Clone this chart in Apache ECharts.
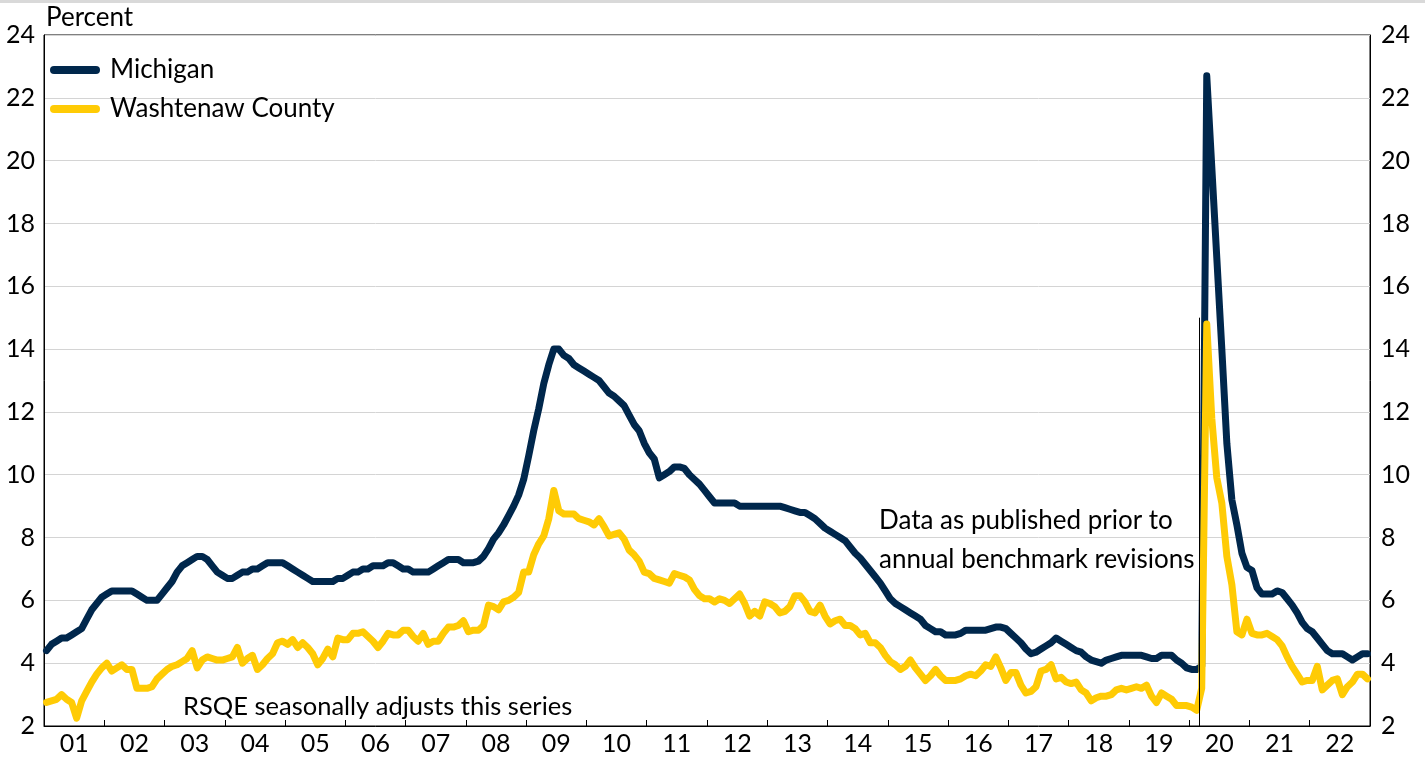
<!DOCTYPE html>
<html>
<head>
<meta charset="utf-8">
<title>Michigan vs Washtenaw County unemployment rate</title>
<script src="https://cdn.jsdelivr.net/npm/echarts@6/dist/echarts.min.js"></script>
<style>
  html, body { margin: 0; padding: 0; background: #fff; }
  #chart { width: 1425px; height: 759px; }
</style>
</head>
<body>
<div id="chart"></div>
<script>
// year labels under the axis (one per year, Jan 2001 - Dec 2022)
const yearLabels = ['01', '02', '03', '04', '05', '06', '07', '08', '09', '10', '11',
  '12', '13', '14', '15', '16', '17', '18', '19', '20', '21', '22']

// monthly unemployment rate, percent
const michigan = [
  4.4, 4.6, 4.7, 4.8, 4.8, 4.9, 5.0, 5.1, 5.4, 5.7, 5.9, 6.1,        // 2001
  6.2, 6.3, 6.3, 6.3, 6.3, 6.3, 6.2, 6.1, 6.0, 6.0, 6.0, 6.2,        // 2002
  6.4, 6.6, 6.9, 7.1, 7.2, 7.3, 7.4, 7.4, 7.3, 7.1, 6.9, 6.8,        // 2003
  6.7, 6.7, 6.8, 6.9, 6.9, 7.0, 7.0, 7.1, 7.2, 7.2, 7.2, 7.2,        // 2004
  7.1, 7.0, 6.9, 6.8, 6.7, 6.6, 6.6, 6.6, 6.6, 6.6, 6.7, 6.7,        // 2005
  6.8, 6.9, 6.9, 7.0, 7.0, 7.1, 7.1, 7.1, 7.2, 7.2, 7.1, 7.0,        // 2006
  7.0, 6.9, 6.9, 6.9, 6.9, 7.0, 7.1, 7.2, 7.3, 7.3, 7.3, 7.2,        // 2007
  7.2, 7.2, 7.25, 7.4, 7.65, 7.95, 8.15, 8.4, 8.7, 9.0, 9.35, 9.85,  // 2008
  10.6, 11.4, 12.1, 12.9, 13.5, 14.0, 14.0, 13.8, 13.7, 13.5, 13.4, 13.3, // 2009
  13.2, 13.1, 13.0, 12.8, 12.6, 12.5, 12.35, 12.2, 11.9, 11.6, 11.4, 11.0, // 2010
  10.7, 10.5, 9.9, 10.0, 10.1, 10.25, 10.25, 10.2, 10.0, 9.85, 9.7, 9.5,   // 2011
  9.3, 9.1, 9.1, 9.1, 9.1, 9.1, 9.0, 9.0, 9.0, 9.0, 9.0, 9.0,        // 2012
  9.0, 9.0, 9.0, 8.95, 8.9, 8.85, 8.8, 8.8, 8.7, 8.6, 8.45, 8.3,     // 2013
  8.2, 8.1, 8.0, 7.9, 7.7, 7.5, 7.35, 7.15, 6.95, 6.75, 6.55, 6.3,   // 2014
  6.05, 5.9, 5.8, 5.7, 5.6, 5.5, 5.4, 5.2, 5.1, 5.0, 5.0, 4.9,       // 2015
  4.9, 4.9, 4.95, 5.05, 5.05, 5.05, 5.05, 5.05, 5.1, 5.15, 5.15, 5.1, // 2016
  4.95, 4.8, 4.65, 4.45, 4.3, 4.35, 4.45, 4.55, 4.65, 4.8, 4.7, 4.6, // 2017
  4.5, 4.4, 4.35, 4.2, 4.1, 4.05, 4.0, 4.1, 4.15, 4.2, 4.25, 4.25,   // 2018
  4.25, 4.25, 4.25, 4.2, 4.15, 4.15, 4.25, 4.25, 4.25, 4.1, 4.0, 3.85, // 2019
  3.8, 3.8, 3.9, 22.7, 19.8, 16.9, 14.0, 11.0, 9.2, 8.4, 7.5, 7.05,  // 2020
  6.95, 6.4, 6.2, 6.2, 6.2, 6.3, 6.25, 6.05, 5.85, 5.6, 5.3, 5.1,    // 2021
  5.0, 4.8, 4.6, 4.4, 4.3, 4.3, 4.3, 4.2, 4.1, 4.2, 4.3, 4.3         // 2022
]

const washtenaw = [
  2.75, 2.8, 2.85, 3.0, 2.85, 2.75, 2.25, 2.8, 3.1, 3.4, 3.65, 3.85,  // 2001
  4.0, 3.75, 3.85, 3.95, 3.8, 3.8, 3.2, 3.2, 3.2, 3.25, 3.5, 3.65,    // 2002
  3.8, 3.9, 3.95, 4.05, 4.15, 4.4, 3.85, 4.1, 4.2, 4.15, 4.1, 4.1,    // 2003
  4.15, 4.2, 4.5, 4.0, 4.15, 4.25, 3.8, 3.95, 4.15, 4.3, 4.65, 4.7,   // 2004
  4.6, 4.75, 4.5, 4.65, 4.5, 4.3, 3.95, 4.15, 4.45, 4.2, 4.8, 4.75,   // 2005
  4.75, 4.95, 4.95, 5.0, 4.85, 4.7, 4.5, 4.7, 4.95, 4.9, 4.9, 5.05,   // 2006
  5.05, 4.85, 4.7, 4.95, 4.6, 4.7, 4.7, 4.95, 5.15, 5.15, 5.2, 5.35,  // 2007
  5.0, 5.05, 5.05, 5.2, 5.85, 5.8, 5.7, 5.95, 6.0, 6.1, 6.25, 6.9,    // 2008
  6.9, 7.45, 7.8, 8.05, 8.6, 9.5, 8.85, 8.75, 8.75, 8.75, 8.6, 8.55,  // 2009
  8.5, 8.4, 8.6, 8.35, 8.05, 8.1, 8.15, 7.95, 7.6, 7.45, 7.25, 6.9,   // 2010
  6.85, 6.7, 6.65, 6.6, 6.55, 6.85, 6.8, 6.75, 6.65, 6.35, 6.15, 6.05, // 2011
  6.05, 5.95, 6.05, 6.0, 5.9, 6.05, 6.2, 5.9, 5.5, 5.65, 5.5, 5.95,   // 2012
  5.9, 5.8, 5.6, 5.65, 5.8, 6.15, 6.15, 5.95, 5.65, 5.6, 5.85, 5.5,   // 2013
  5.25, 5.35, 5.4, 5.2, 5.2, 5.1, 4.9, 4.95, 4.65, 4.65, 4.5, 4.25,   // 2014
  4.05, 3.95, 3.8, 3.9, 4.1, 3.85, 3.65, 3.45, 3.6, 3.8, 3.6, 3.45,   // 2015
  3.45, 3.45, 3.5, 3.6, 3.65, 3.6, 3.75, 3.95, 3.9, 4.2, 3.85, 3.45,  // 2016
  3.7, 3.7, 3.3, 3.05, 3.1, 3.25, 3.75, 3.8, 3.95, 3.5, 3.55, 3.4,    // 2017
  3.35, 3.4, 3.15, 3.05, 2.8, 2.9, 2.95, 2.95, 3.0, 3.15, 3.2, 3.15,  // 2018
  3.2, 3.25, 3.2, 3.3, 2.95, 2.75, 3.05, 2.95, 2.85, 2.65, 2.65, 2.65, // 2019
  2.6, 2.5, 3.2, 14.8, 11.8, 9.9, 9.1, 7.4, 6.5, 5.0, 4.9, 5.4,       // 2020
  4.95, 4.9, 4.9, 4.95, 4.85, 4.75, 4.55, 4.2, 3.9, 3.65, 3.4, 3.45,  // 2021
  3.45, 3.9, 3.15, 3.3, 3.45, 3.5, 3.0, 3.25, 3.4, 3.65, 3.65, 3.5    // 2022
]

// month index where benchmark-revised data ends (Mar 2020 starts here)
const breakMonth = 230

const NAVY = '#00274C'
const MAIZE = '#FFCB05'
const FONT = 'Lato'

// месяц -> середина своей полосы на оси
const toPoints = arr => arr.map((v, i) => [i + 0.5, v])

const chart = echarts.init(document.getElementById('chart'))

const pill = 'path://M4,0 H46 A4,4 0 0 1 46,8 H4 A4,4 0 0 1 4,0 Z'

const option = {
  animation: false,
  textStyle: { fontFamily: FONT },
  grid: {
    left: 44,
    right: 55,
    top: 35,
    bottom: 33,
    show: true,
    borderColor: '#000',
    borderWidth: 1,
    backgroundColor: 'transparent'
  },
  legend: {
    orient: 'vertical',
    left: 50,
    top: 57,
    padding: 0,
    itemGap: 13,
    itemWidth: 50,
    itemHeight: 8,
    textStyle: { fontSize: 26, color: '#000', fontFamily: FONT, padding: [0, 0, 0, 5] },
    data: [
      { name: 'Michigan', icon: pill },
      { name: 'Washtenaw County', icon: pill }
    ]
  },
  xAxis: [
    {
      type: 'value',
      min: 0,
      max: michigan.length,
      interval: 12,
      axisLine: { show: true, lineStyle: { color: '#000', width: 1 } },
      axisTick: { show: true, inside: true, length: 6, lineStyle: { color: '#000' } },
      axisLabel: { show: false },
      splitLine: { show: false }
    },
    {
      type: 'category',
      position: 'bottom',
      data: yearLabels,
      boundaryGap: true,
      axisLine: { show: false },
      axisTick: { show: false },
      axisLabel: { fontSize: 25, color: '#000', margin: 5, fontFamily: FONT }
    }
  ],
  yAxis: [
    {
      type: 'value',
      min: 2,
      max: 24,
      interval: 2,
      position: 'left',
      axisLine: { show: true, lineStyle: { color: '#000' } },
      axisTick: { show: false },
      axisLabel: { fontSize: 25, color: '#000', margin: 9, fontFamily: FONT },
      splitLine: { show: true, lineStyle: { color: '#d4d4d4', width: 1 } }
    },
    {
      type: 'value',
      min: 2,
      max: 24,
      interval: 2,
      position: 'right',
      axisLine: { show: true, lineStyle: { color: '#000' } },
      axisTick: { show: false },
      axisLabel: { fontSize: 25, color: '#000', margin: 11, fontFamily: FONT },
      splitLine: { show: false }
    }
  ],
  series: [
    {
      name: 'Michigan',
      type: 'line',
      xAxisIndex: 0,
      yAxisIndex: 0,
      data: toPoints(michigan),
      showSymbol: false,
      symbol: 'none',
      itemStyle: { color: NAVY },
      lineStyle: { color: NAVY, width: 7, cap: 'round', join: 'round' },
      markLine: {
        silent: true,
        symbol: 'none',
        label: { show: false },
        lineStyle: { color: '#000', width: 1, type: 'solid' },
        data: [[{ coord: [breakMonth, 15] }, { coord: [breakMonth, 2] }]]
      }
    },
    {
      name: 'Washtenaw County',
      type: 'line',
      xAxisIndex: 0,
      yAxisIndex: 0,
      data: toPoints(washtenaw),
      showSymbol: false,
      symbol: 'none',
      itemStyle: { color: MAIZE },
      lineStyle: { color: MAIZE, width: 7, cap: 'round', join: 'round' }
    }
  ],
  graphic: [
    // серая полоска сверху
    { type: 'rect', left: 0, top: 0, shape: { width: 1425, height: 3 }, style: { fill: '#d9d9d9' } },
    { type: 'text', left: 46, top: 5, style: { text: 'Percent', fontSize: 26, fontFamily: FONT, fill: '#000' } },
    { type: 'text', left: 879, top: 508, style: { text: 'Data as published prior to', fontSize: 26, fontFamily: FONT, fill: '#000' } },
    { type: 'text', left: 879, top: 547, style: { text: 'annual benchmark revisions', fontSize: 26, fontFamily: FONT, fill: '#000' } },
    { type: 'text', left: 183, top: 694, style: { text: 'RSQE seasonally adjusts this series', fontSize: 25.5, fontFamily: FONT, fill: '#000' } }
  ]
}

chart.setOption(option)
</script>
</body>
</html>
